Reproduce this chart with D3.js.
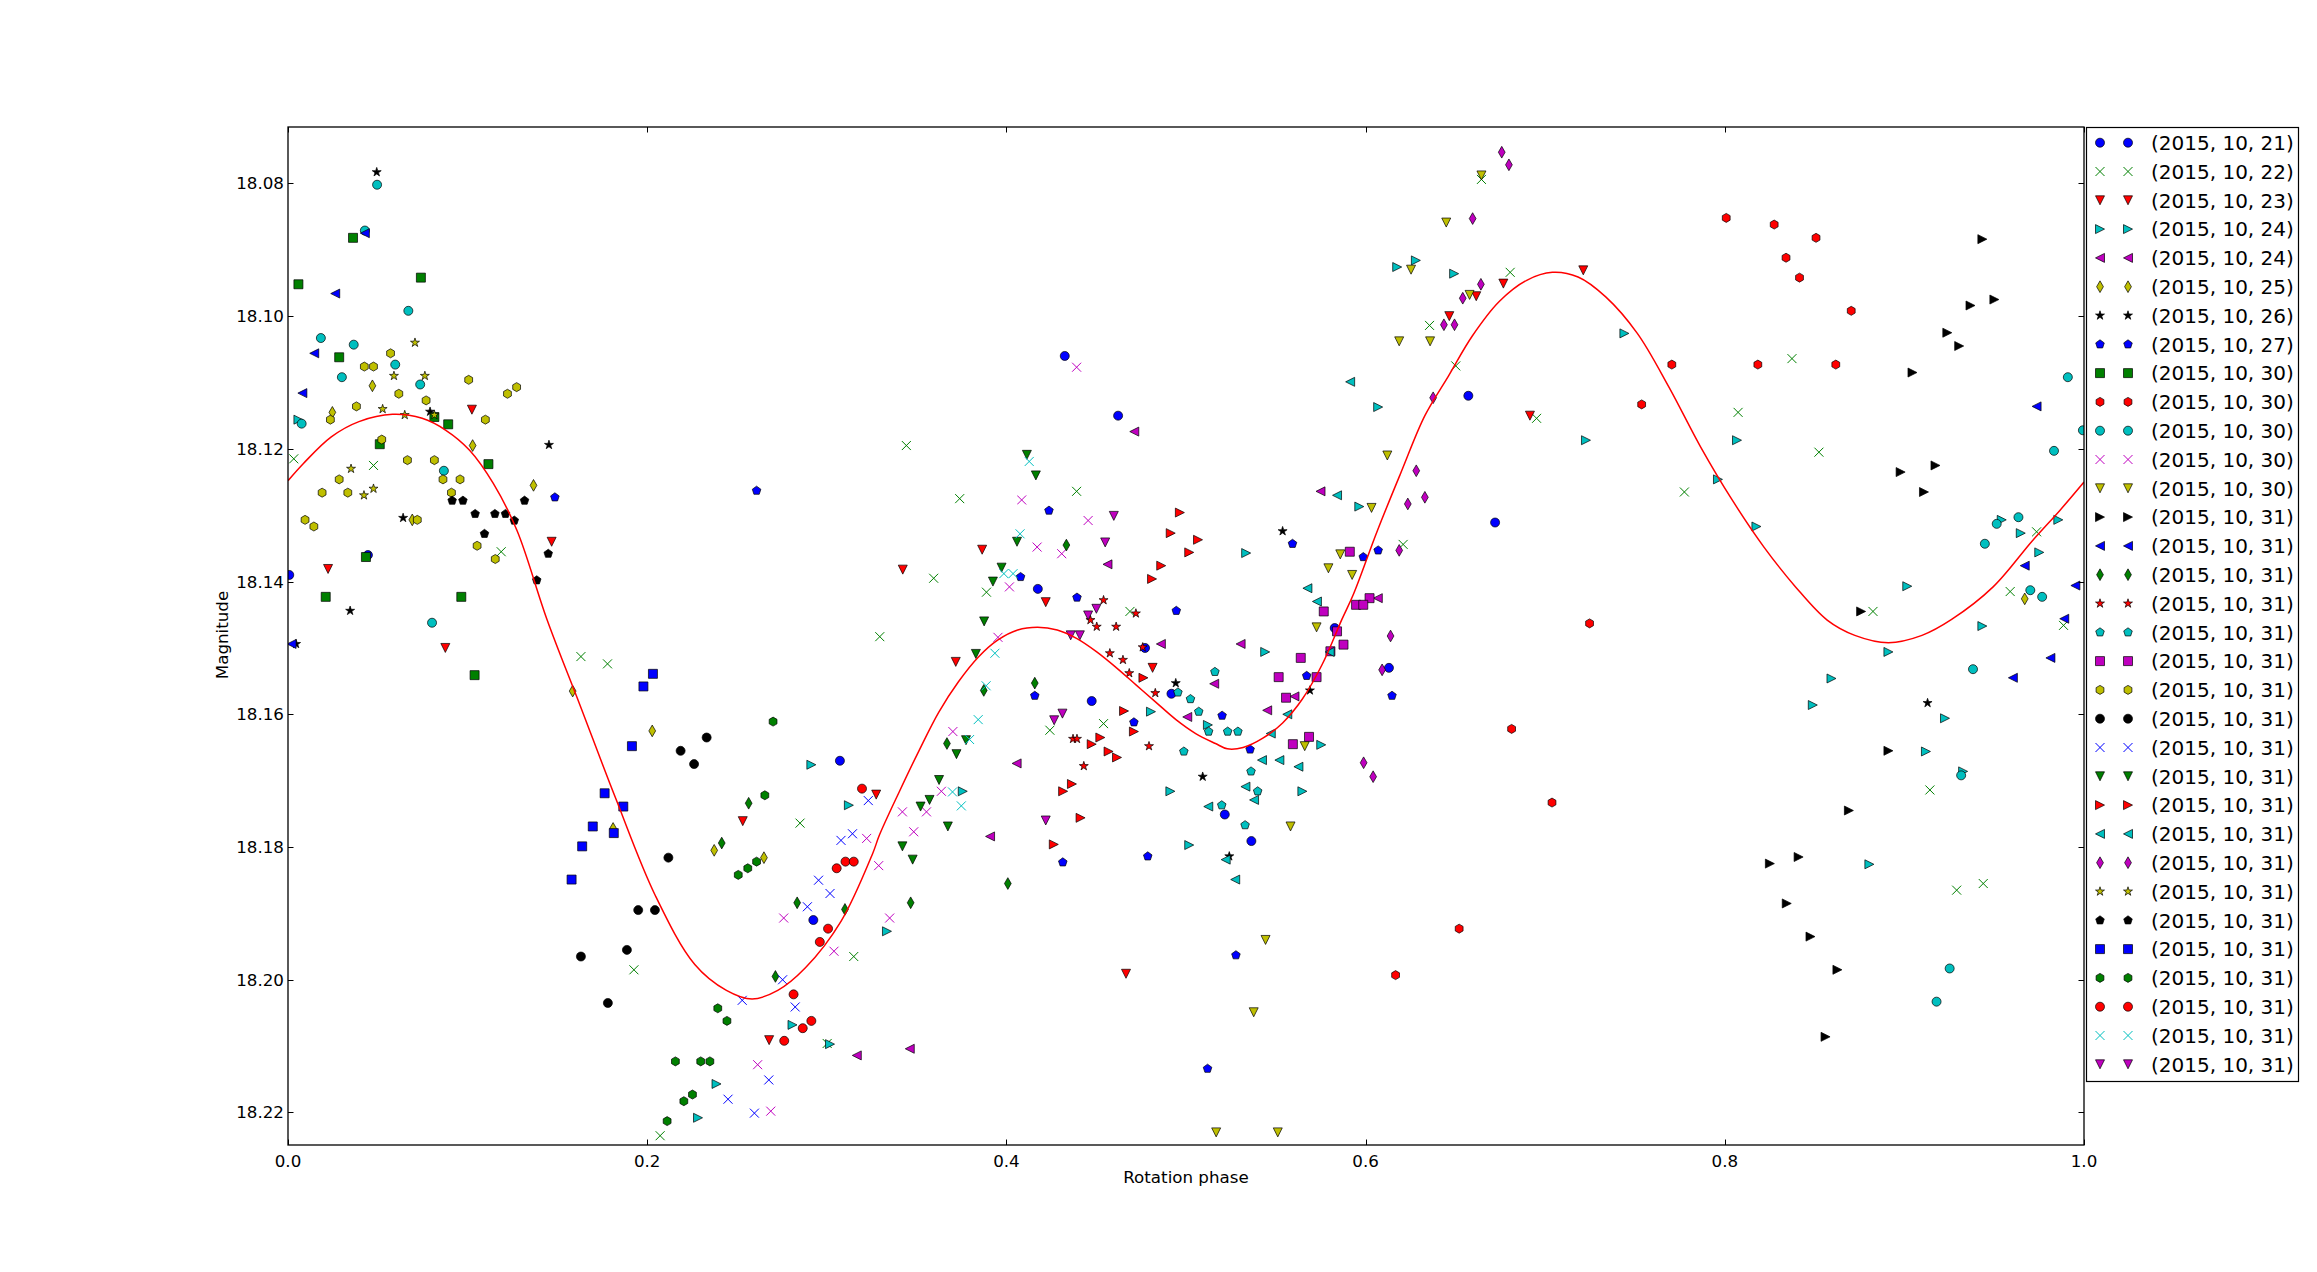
<!DOCTYPE html>
<html><head><meta charset="utf-8">
<script src="https://cdn.jsdelivr.net/npm/d3@7"></script>
<style>
body{margin:0;background:#fff}
svg{display:block}
text{font-family:"DejaVu Sans",sans-serif;fill:#000}
</style>
</head><body>
<svg id="chart" width="2317" height="1272"></svg>
<script>
// ---------- data: [rotation phase, magnitude] per night ----------
const s01 = [[0.0445,18.1360],[0.0007,18.1390],[0.3073,18.1670],[0.2925,18.1910],[0.4325,18.1060],[0.4622,18.1150],[0.4175,18.1411],[0.5828,18.1470],[0.4772,18.1500],[0.4475,18.1580],[0.4919,18.1569],[0.5216,18.1751],[0.5364,18.1791],[0.6130,18.1530],[0.6572,18.1120],[0.6721,18.1311]];
const s02 = [[0.0032,18.1215],[0.0476,18.1225],[0.1187,18.1355],[0.3295,18.1483],[0.1631,18.1513],[0.1779,18.1524],[0.2851,18.1764],[0.1926,18.1985],[0.3150,18.1965],[0.3002,18.2096],[0.2072,18.2235],[0.6645,18.0794],[0.6356,18.1014],[0.6502,18.1075],[0.3443,18.1195],[0.3740,18.1275],[0.4391,18.1264],[0.3595,18.1395],[0.3889,18.1416],[0.4688,18.1445],[0.6209,18.1344],[0.4242,18.1624],[0.4541,18.1614],[0.6805,18.0934],[0.8374,18.1064],[0.8074,18.1145],[0.6952,18.1154],[0.8524,18.1205],[0.7775,18.1265],[0.8825,18.1445],[0.9589,18.1415],[0.9736,18.1325],[0.9886,18.1466],[0.9142,18.1714],[0.9291,18.1865],[0.9439,18.1855]];
const s03 = [[0.1024,18.1141],[0.1468,18.1340],[0.0223,18.1381],[0.0876,18.1500],[0.3275,18.1721],[0.2532,18.1761],[0.2679,18.2091],[0.6616,18.0970],[0.6466,18.1000],[0.3865,18.1352],[0.3423,18.1382],[0.4219,18.1431],[0.3718,18.1521],[0.4814,18.1530],[0.4666,18.1991],[0.7212,18.0931],[0.6767,18.0951],[0.6915,18.1150]];
const s04 = [[0.0058,18.1156],[0.2914,18.1676],[0.3123,18.1737],[0.3335,18.1927],[0.2809,18.2068],[0.3018,18.2097],[0.2386,18.2157],[0.2283,18.2208],[0.2595,18.2260],[0.6176,18.0926],[0.6280,18.0916],[0.6493,18.0936],[0.6070,18.1137],[0.5965,18.1287],[0.5335,18.1357],[0.5441,18.1506],[0.5753,18.1646],[0.5122,18.1616],[0.4805,18.1596],[0.4913,18.1716],[0.5648,18.1716],[0.5018,18.1797],[0.3757,18.1716],[0.7441,18.1026],[0.7227,18.1187],[0.8068,18.1187],[0.7962,18.1246],[0.8176,18.1317],[0.9016,18.1407],[0.9542,18.1307],[0.9648,18.1327],[0.9857,18.1307],[0.9751,18.1356],[0.9434,18.1467],[0.8911,18.1506],[0.8594,18.1546],[0.8490,18.1586],[0.9226,18.1606],[0.9120,18.1656],[0.9327,18.1686],[0.8805,18.1826]];
const s05 = [[0.3167,18.2114],[0.4712,18.1174],[0.5749,18.1264],[0.4563,18.1374],[0.6068,18.1425],[0.4860,18.1494],[0.5304,18.1494],[0.5157,18.1554],[0.5452,18.1594],[0.5007,18.1604],[0.4057,18.1674],[0.3909,18.1784],[0.3462,18.2104],[0.5604,18.1573]];
const s06 = [[0.0470,18.1105],[0.0247,18.1145],[0.1028,18.1195],[0.1367,18.1255],[0.0692,18.1307],[0.1585,18.1565],[0.1810,18.1772],[0.2028,18.1625],[0.2373,18.1805],[0.2650,18.1816],[0.9670,18.1426]];
const s07 = [[0.0494,18.0783],[0.0791,18.1144],[0.1453,18.1194],[0.0641,18.1304],[0.0346,18.1444],[0.0045,18.1494],[0.5538,18.1324],[0.4943,18.1553],[0.5690,18.1564],[0.5093,18.1694],[0.5241,18.1814],[0.9129,18.1583]];
const s08 = [[0.2609,18.1263],[0.1486,18.1273],[0.4237,18.1293],[0.4079,18.1393],[0.4393,18.1424],[0.4946,18.1444],[0.5593,18.1343],[0.5987,18.1363],[0.6070,18.1353],[0.4158,18.1572],[0.4710,18.1612],[0.5201,18.1602],[0.5357,18.1653],[0.5672,18.1542],[0.6147,18.1572],[0.4314,18.1823],[0.4787,18.1814],[0.5278,18.1963],[0.5120,18.2134]];
const s09 = [[0.0362,18.0882],[0.0740,18.0942],[0.0058,18.0952],[0.0285,18.1062],[0.0815,18.1152],[0.0892,18.1163],[0.0511,18.1193],[0.1116,18.1223],[0.0434,18.1363],[0.0210,18.1423],[0.0965,18.1423],[0.1039,18.1541]];
const s10 = [[0.8008,18.0852],[0.8275,18.0862],[0.8508,18.0882],[0.8341,18.0912],[0.8416,18.0942],[0.8704,18.0992],[0.7705,18.1073],[0.8184,18.1073],[0.8618,18.1073],[0.7537,18.1133],[0.7247,18.1463],[0.6813,18.1622],[0.7038,18.1733],[0.6521,18.1923],[0.6167,18.1993]];
const s11 = [[0.0496,18.0802],[0.0428,18.0871],[0.0670,18.0992],[0.0183,18.1033],[0.0366,18.1043],[0.0597,18.1073],[0.0300,18.1092],[0.0736,18.1103],[0.0076,18.1162],[0.0868,18.1233],[0.0802,18.1462],[0.9910,18.1092],[0.9994,18.1172],[0.9833,18.1203],[0.9635,18.1303],[0.9514,18.1313],[0.9448,18.1343],[0.9701,18.1413],[0.9767,18.1423],[0.9382,18.1532],[0.9316,18.1692],[0.9252,18.1983],[0.9179,18.2033]];
const s12 = [[0.4391,18.1077],[0.4085,18.1277],[0.4455,18.1308],[0.4171,18.1348],[0.4308,18.1358],[0.4017,18.1408],[0.3953,18.1484],[0.3702,18.1626],[0.3638,18.1716],[0.3555,18.1747],[0.3421,18.1747],[0.3484,18.1777],[0.3222,18.1787],[0.3289,18.1828],[0.3350,18.1907],[0.2760,18.1907],[0.3040,18.1957],[0.2615,18.2128],[0.2688,18.2198]];
const s13 = [[0.6645,18.0788],[0.6449,18.0859],[0.6253,18.0930],[0.6579,18.0968],[0.6187,18.1038],[0.6359,18.1038],[0.6121,18.1210],[0.6033,18.1289],[0.5859,18.1359],[0.5793,18.1380],[0.5925,18.1390],[0.5727,18.1469],[0.5661,18.1648],[0.5582,18.1769],[0.5443,18.1940],[0.5377,18.2049],[0.5168,18.2230],[0.5511,18.2230]];
const s14 = [[0.9434,18.0884],[0.9501,18.0975],[0.9368,18.0984],[0.9239,18.1025],[0.9305,18.1045],[0.9045,18.1085],[0.8979,18.1235],[0.9173,18.1225],[0.9109,18.1265],[0.8759,18.1445],[0.8911,18.1655],[0.8691,18.1745],[0.8251,18.1825],[0.8411,18.1815],[0.8345,18.1885],[0.8477,18.1935],[0.8627,18.1985],[0.8561,18.2086]];
const s15 = [[0.0428,18.0875],[0.0263,18.0966],[0.0146,18.1056],[0.0080,18.1116],[0.0020,18.1494],[0.9736,18.1136],[0.9670,18.1376],[0.9952,18.1406],[0.9890,18.1456],[0.9813,18.1515],[0.9604,18.1545]];
const s16 = [[0.2565,18.1734],[0.2415,18.1794],[0.2835,18.1884],[0.3101,18.1894],[0.2714,18.1995],[0.4334,18.1345],[0.4158,18.1553],[0.3874,18.1564],[0.3669,18.1644],[0.4008,18.1855],[0.3467,18.1884]];
const s17 = [[0.4541,18.1428],[0.4721,18.1448],[0.4468,18.1458],[0.4503,18.1468],[0.4611,18.1468],[0.4759,18.1499],[0.4576,18.1508],[0.4649,18.1518],[0.4684,18.1538],[0.4829,18.1568],[0.4371,18.1637],[0.4393,18.1637],[0.4794,18.1648],[0.4431,18.1678]];
const s18 = [[0.5161,18.1536],[0.4955,18.1567],[0.5025,18.1577],[0.5071,18.1596],[0.5126,18.1626],[0.5232,18.1626],[0.5289,18.1626],[0.4988,18.1656],[0.5362,18.1686],[0.5399,18.1716],[0.5199,18.1737],[0.5329,18.1767]];
const s19 = [[0.5912,18.1355],[0.6022,18.1425],[0.5947,18.1435],[0.5987,18.1435],[0.5767,18.1445],[0.5841,18.1475],[0.5877,18.1495],[0.5804,18.1505],[0.5639,18.1515],[0.5516,18.1544],[0.5727,18.1544],[0.5557,18.1575],[0.5685,18.1634],[0.5595,18.1645]];
const s20 = [[0.0571,18.1056],[0.0425,18.1076],[0.0476,18.1076],[0.1006,18.1096],[0.1273,18.1107],[0.1222,18.1117],[0.0617,18.1117],[0.0769,18.1127],[0.0381,18.1136],[0.0236,18.1156],[0.1099,18.1156],[0.0522,18.1186],[0.0665,18.1217],[0.0815,18.1217],[0.0285,18.1246],[0.0863,18.1246],[0.0958,18.1246],[0.0190,18.1266],[0.0333,18.1266],[0.0910,18.1266],[0.0720,18.1307],[0.0095,18.1307],[0.0144,18.1317],[0.1053,18.1346],[0.1154,18.1366]];
const s21 = [[0.2331,18.1635],[0.2186,18.1655],[0.2261,18.1675],[0.2118,18.1816],[0.1950,18.1895],[0.2043,18.1895],[0.1887,18.1955],[0.1631,18.1965],[0.1781,18.2035]];
const s22 = [[0.3231,18.1730],[0.3079,18.1790],[0.3143,18.1780],[0.2954,18.1850],[0.3018,18.1870],[0.2892,18.1890],[0.2754,18.2000],[0.2529,18.2031],[0.2824,18.2041],[0.2677,18.2151],[0.2450,18.2180],[0.2597,18.2201]];
const s23 = [[0.4114,18.1209],[0.4164,18.1240],[0.4059,18.1340],[0.3973,18.1379],[0.3925,18.1400],[0.3876,18.1460],[0.3830,18.1509],[0.3775,18.1639],[0.3722,18.1660],[0.3625,18.1699],[0.3572,18.1729],[0.3522,18.1739],[0.3674,18.1769],[0.3421,18.1799],[0.3478,18.1819]];
const s24 = [[0.4966,18.1296],[0.4915,18.1327],[0.5067,18.1337],[0.5018,18.1356],[0.4862,18.1376],[0.4811,18.1396],[0.4763,18.1545],[0.4655,18.1595],[0.4710,18.1626],[0.4523,18.1635],[0.4475,18.1645],[0.4569,18.1656],[0.4616,18.1665],[0.4365,18.1705],[0.4316,18.1716],[0.4413,18.1756],[0.4264,18.1796]];
const s25 = [[0.5914,18.1099],[0.5841,18.1270],[0.5676,18.1410],[0.5729,18.1430],[0.5800,18.1506],[0.5564,18.1600],[0.5472,18.1629],[0.5423,18.1669],[0.5520,18.1669],[0.5626,18.1679],[0.5331,18.1709],[0.5379,18.1729],[0.5124,18.1739],[0.5221,18.1819],[0.5274,18.1849]];
const s26 = [[0.6758,18.0753],[0.6798,18.0772],[0.6596,18.0853],[0.6642,18.0952],[0.6541,18.0973],[0.6436,18.1013],[0.6495,18.1013],[0.6376,18.1123],[0.6282,18.1233],[0.6235,18.1283],[0.6330,18.1273],[0.6187,18.1353],[0.6139,18.1482],[0.6092,18.1533],[0.5989,18.1673],[0.6042,18.1694]];
const s27 = [[0.0707,18.1040],[0.0590,18.1090],[0.0762,18.1090],[0.0527,18.1140],[0.0815,18.1149],[0.0650,18.1149],[0.0351,18.1230],[0.0476,18.1260],[0.0423,18.1270]];
const s28 = [[0.0914,18.1278],[0.0974,18.1278],[0.1317,18.1278],[0.1042,18.1298],[0.1152,18.1298],[0.1211,18.1298],[0.1260,18.1308],[0.1094,18.1328],[0.1449,18.1358],[0.1385,18.1398]];
const s29 = [[0.2032,18.1539],[0.1979,18.1558],[0.1915,18.1648],[0.1763,18.1719],[0.1867,18.1739],[0.1697,18.1769],[0.1814,18.1779],[0.1638,18.1799],[0.1579,18.1849]];
const s30 = [[0.2701,18.1611],[0.2655,18.1722],[0.2507,18.1842],[0.2560,18.1832],[0.2609,18.1822],[0.2393,18.2043],[0.2444,18.2062],[0.2157,18.2123],[0.2298,18.2123],[0.2349,18.2123],[0.2252,18.2173],[0.2204,18.2183],[0.2111,18.2213]];
const s31 = [[0.3196,18.1712],[0.3055,18.1832],[0.3104,18.1822],[0.3150,18.1822],[0.3007,18.1923],[0.2961,18.1943],[0.2815,18.2022],[0.2914,18.2062],[0.2866,18.2073],[0.2763,18.2092]];
const s32 = [[0.4127,18.1219],[0.4076,18.1328],[0.3986,18.1388],[0.4037,18.1388],[0.3936,18.1508],[0.3887,18.1557],[0.3843,18.1608],[0.3795,18.1638],[0.3700,18.1717],[0.3749,18.1738]];
const s33 = [[0.4598,18.1301],[0.4550,18.1341],[0.4455,18.1451],[0.4501,18.1441],[0.4358,18.1481],[0.4409,18.1481],[0.4312,18.1599],[0.4266,18.1609],[0.4219,18.1760]];

const seriesLabels = ["(2015, 10, 21)","(2015, 10, 22)","(2015, 10, 23)","(2015, 10, 24)","(2015, 10, 24)","(2015, 10, 25)","(2015, 10, 26)","(2015, 10, 27)","(2015, 10, 30)","(2015, 10, 30)","(2015, 10, 30)","(2015, 10, 30)","(2015, 10, 30)","(2015, 10, 31)","(2015, 10, 31)","(2015, 10, 31)","(2015, 10, 31)","(2015, 10, 31)","(2015, 10, 31)","(2015, 10, 31)","(2015, 10, 31)","(2015, 10, 31)","(2015, 10, 31)","(2015, 10, 31)","(2015, 10, 31)","(2015, 10, 31)","(2015, 10, 31)","(2015, 10, 31)","(2015, 10, 31)","(2015, 10, 31)","(2015, 10, 31)","(2015, 10, 31)","(2015, 10, 31)"];

// fitted light curve
const fitPhase = [0.0000,0.0086,0.0241,0.0395,0.0582,0.0747,0.0879,0.1011,0.1143,0.1275,0.1442,0.1627,0.1825,0.2045,0.2265,0.2441,0.2584,0.2727,0.2881,0.3079,0.3255,0.3293,0.3403,0.3513,0.3623,0.3733,0.3843,0.3953,0.4063,0.4173,0.4283,0.4393,0.4503,0.4613,0.4723,0.4833,0.4944,0.5054,0.5164,0.5230,0.5318,0.5428,0.5538,0.5648,0.5758,0.5868,0.5934,0.6066,0.6198,0.6330,0.6462,0.6594,0.6744,0.6897,0.7040,0.7183,0.7337,0.7513,0.7689,0.7865,0.8041,0.8218,0.8394,0.8570,0.8724,0.8911,0.9098,0.9263,0.9494,0.9714,0.9868,1.0000];
const fitMag = [18.1248,18.1222,18.1182,18.1159,18.1148,18.1154,18.1172,18.1202,18.1252,18.1323,18.1457,18.1587,18.1727,18.1873,18.1977,18.2016,18.2029,18.2016,18.1982,18.1912,18.1810,18.1782,18.1717,18.1655,18.1597,18.1551,18.1514,18.1488,18.1473,18.1469,18.1473,18.1486,18.1506,18.1530,18.1556,18.1582,18.1608,18.1629,18.1644,18.1652,18.1650,18.1636,18.1613,18.1577,18.1525,18.1457,18.1418,18.1323,18.1235,18.1150,18.1090,18.1030,18.0978,18.0946,18.0934,18.0941,18.0971,18.1026,18.1107,18.1197,18.1277,18.1348,18.1408,18.1458,18.1481,18.1492,18.1481,18.1457,18.1408,18.1338,18.1292,18.1250];

const xTicks = [0.0,0.2,0.4,0.6,0.8,1.0];
const yTicks = [18.08,18.10,18.12,18.14,18.16,18.18,18.20,18.22];

// ---------- styles ----------
const markerCycle = ['o','x','v','>','<','d','*','p','s','h'];
const colorCycle = ['#0000ff','#008000','#ff0000','#00bfbf','#bf00bf','#bfbf00','#000000'];
const allSeries = [s01,s02,s03,s04,s05,s06,s07,s08,s09,s10,s11,s12,s13,s14,s15,s16,s17,s18,s19,s20,s21,s22,s23,s24,s25,s26,s27,s28,s29,s30,s31,s32,s33];

const M = {left:288, right:2084, top:127, bottom:1145};
const svg = d3.select('#chart');
const x = d3.scaleLinear().domain([0,1]).range([M.left,M.right]);
const y = d3.scaleLinear().domain([18.0715,18.2249]).range([M.top,M.bottom]);

const MS = 9;
function poly(n, r, inner){
  const pts=[];
  const k = inner ? 2*n : n;
  for(let i=0;i<k;i++){
    const a = -Math.PI/2 + i*2*Math.PI/k;
    const rr = inner ? (i%2? r*inner : r) : r;
    pts.push([rr*Math.cos(a), rr*Math.sin(a)]);
  }
  return 'M'+pts.map(p=>p[0].toFixed(2)+','+p[1].toFixed(2)).join('L')+'Z';
}
function markerPath(m){
  const h = MS/2;
  switch(m){
    case 'o': return `M${h},0A${h},${h} 0 1,1 ${-h},0A${h},${h} 0 1,1 ${h},0Z`;
    case 'x': return `M${-h},${-h}L${h},${h}M${-h},${h}L${h},${-h}`;
    case 'v': return `M0,${h}L${-h},${-h}L${h},${-h}Z`;
    case '>': return `M${h},0L${-h},${-h}L${-h},${h}Z`;
    case '<': return `M${-h},0L${h},${-h}L${h},${h}Z`;
    case 'd': return `M0,${-h*1.3}L${h*0.75},0L0,${h*1.3}L${-h*0.75},0Z`;
    case 's': return `M${-h},${-h}L${h},${-h}L${h},${h}L${-h},${h}Z`;
    case '*': return poly(5, h*1.05, 0.381966);
    case 'p': return poly(5, h);
    case 'h': return poly(6, h);
  }
}
function styleMarker(sel, i){
  const m = markerCycle[i%10], c = colorCycle[i%7];
  if(m==='x'){
    sel.attr('fill','none').attr('stroke',c).attr('stroke-width',1);
  } else {
    sel.attr('fill',c).attr('stroke','#000').attr('stroke-width',0.7);
  }
  sel.attr('d', markerPath(m));
}

svg.append('rect').attr('width',2317).attr('height',1272).attr('fill','#fff');

svg.append('clipPath').attr('id','plotclip').append('rect')
  .attr('x',M.left).attr('y',M.top).attr('width',M.right-M.left).attr('height',M.bottom-M.top);

const plot = svg.append('g').attr('clip-path','url(#plotclip)');
allSeries.forEach((data,i)=>{
  const g = plot.append('g');
  g.selectAll('path').data(data).enter().append('path')
    .attr('transform',d=>`translate(${x(d[0]).toFixed(2)},${y(d[1]).toFixed(2)})`)
    .call(sel=>styleMarker(sel,i));
});

const fit = fitPhase.map((p,i)=>[p,fitMag[i]]);
plot.append('path').datum(fit)
  .attr('fill','none').attr('stroke','#ff0000').attr('stroke-width',1.5)
  .attr('d', d3.line().x(d=>x(d[0])).y(d=>y(d[1])).curve(d3.curveCatmullRom.alpha(0.5)));

// axes (inward ticks on all four sides)
const TL = 5.5;
const axG = svg.append('g').attr('stroke','#000').attr('stroke-width',1);
xTicks.forEach(t=>{
  const px = Math.round(x(t))+0.5;
  axG.append('line').attr('x1',px).attr('x2',px).attr('y1',M.bottom).attr('y2',M.bottom-TL);
  axG.append('line').attr('x1',px).attr('x2',px).attr('y1',M.top).attr('y2',M.top+TL);
});
yTicks.forEach(t=>{
  const py = Math.round(y(t))+0.5;
  axG.append('line').attr('x1',M.left).attr('x2',M.left+TL).attr('y1',py).attr('y2',py);
  axG.append('line').attr('x1',M.right).attr('x2',M.right-TL).attr('y1',py).attr('y2',py);
});
svg.append('rect').attr('x',M.left).attr('y',M.top).attr('width',M.right-M.left).attr('height',M.bottom-M.top)
  .attr('fill','none').attr('stroke','#000').attr('stroke-width',1.3);

const fx = d3.format('.1f'), fy = d3.format('.2f');
svg.append('g').selectAll('text').data(xTicks).enter().append('text')
  .attr('x',d=>x(d)).attr('y',1167).attr('text-anchor','middle').attr('font-size',16.7).text(fx);
svg.append('g').selectAll('text').data(yTicks).enter().append('text')
  .attr('x',284).attr('y',d=>y(d)+6).attr('text-anchor','end').attr('font-size',16.7).text(fy);

svg.append('text').attr('x',(M.left+M.right)/2).attr('y',1183).attr('text-anchor','middle')
  .attr('font-size',16.7).text('Rotation phase');
svg.append('text').attr('transform','translate(228,635) rotate(-90)').attr('text-anchor','middle')
  .attr('font-size',16.7).text('Magnitude');

// legend
const L = {x:2086, y:127, w:212, h:954};
const lg = svg.append('g');
lg.append('rect').attr('x',L.x+0.5).attr('y',L.y+0.5).attr('width',L.w).attr('height',L.h)
  .attr('fill','#fff').attr('stroke','#000').attr('stroke-width',1.2);
seriesLabels.forEach((lab,i)=>{
  const cy = 142.7 + i*28.8;
  [2100,2128].forEach(cx=>{
    lg.append('path').attr('transform',`translate(${cx},${cy})`).call(sel=>styleMarker(sel,i));
  });
  lg.append('text').attr('x',2151).attr('y',cy+7.3).attr('font-size',20).text(lab);
});
</script>
</body></html>
